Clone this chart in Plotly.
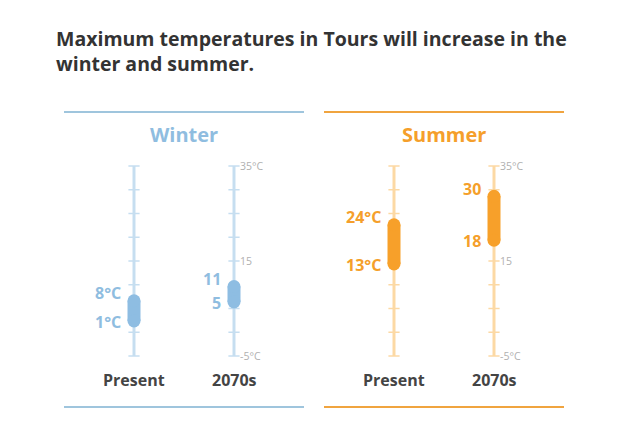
import plotly.graph_objects as go

# ---- data ----
periods = ["Present", "2070s"]
winter_low = [1, 5]
winter_high = [8, 11]
summer_low = [13, 18]
summer_high = [24, 30]
winter_low_text = ["1°C", "5"]
winter_high_text = ["8°C", "11"]
summer_low_text = ["13°C", "18"]
summer_high_text = ["24°C", "30"]
scale_ticks = [-5, 0, 5, 10, 15, 20, 25, 30, 35]
scale_label_values = [35, 15, -5]
scale_label_text = ["35°C", "15", "-5°C"]
title_lines = ["Maximum temperatures in Tours will increase in the", "winter and summer."]

# ---- layout geometry (page has an 8px body margin) ----
OFF = 8
W, H = 634 - OFF, 430 - OFF
ML, MT = 64 - OFF, 112 - OFF
MR = W - (564 - OFF)
MB = H - (407 - OFF)
plot_h = H - MT - MB
plot_w = W - ML - MR
px_per_deg = 4.75
y_max = -5 + (356 - 112) / px_per_deg
y_min = y_max - plot_h / px_per_deg
bar_w = 13
r_deg = (bar_w / 2) / px_per_deg
FONT = "Open Sans"


def paper_y(page_y):
    return 1 + (112 - page_y) / plot_h


def paper_x(page_x):
    return (page_x - 64) / plot_w


panels = [
    dict(name="Winter", xa="x", low=winter_low, high=winter_high,
         low_t=winter_low_text, high_t=winter_high_text,
         axis_col="#c6def0", bar_col="#8ebde2", txt_col="#8fbde0", rule_col="#9fc5dd"),
    dict(name="Summer", xa="x2", low=summer_low, high=summer_high,
         low_t=summer_low_text, high_t=summer_high_text,
         axis_col="#fcd9a4", bar_col="#f7a02a", txt_col="#f59f2b", rule_col="#f0a43f"),
]

fig = go.Figure()
annotations = []
shapes = []

for p in panels:
    xa = p["xa"]
    # vertical scale lines
    xs, ys = [], []
    for per in periods:
        xs += [per, per, None]
        ys += [scale_ticks[0], scale_ticks[-1], None]
    fig.add_trace(go.Scatter(x=xs, y=ys, mode="lines", xaxis=xa, yaxis="y",
                             line=dict(color=p["axis_col"], width=3),
                             hoverinfo="skip", showlegend=False))
    # tick marks
    tx, ty = [], []
    for per in periods:
        tx += [per] * len(scale_ticks)
        ty += scale_ticks
    fig.add_trace(go.Scatter(x=tx, y=ty, mode="markers", xaxis=xa, yaxis="y",
                             marker=dict(symbol="line-ew", size=8,
                                         line=dict(color=p["axis_col"], width=1.5)),
                             hoverinfo="skip", showlegend=False))
    # range bars
    for i, per in enumerate(periods):
        lo, hi = p["low"][i], p["high"][i]
        fig.add_trace(go.Scatter(x=[per, per], y=[lo + r_deg, hi - r_deg],
                                 mode="lines+markers", xaxis=xa, yaxis="y",
                                 line=dict(color=p["bar_col"], width=bar_w),
                                 marker=dict(size=bar_w, color=p["bar_col"], line=dict(width=0)),
                                 hoverinfo="skip", showlegend=False))
        annotations.append(dict(x=per, y=hi, xref=xa, yref="y", text=p["high_t"][i],
                                showarrow=False, xanchor="right", yanchor="middle",
                                xshift=-11, yshift=1,
                                font=dict(family=FONT, size=16, color=p["txt_col"], weight=700)))
        annotations.append(dict(x=per, y=lo, xref=xa, yref="y", text=p["low_t"][i],
                                showarrow=False, xanchor="right", yanchor="middle",
                                xshift=-11, yshift=6,
                                font=dict(family=FONT, size=16, color=p["txt_col"], weight=700)))
    # scale labels on the right axis
    for v, t in zip(scale_label_values, scale_label_text):
        annotations.append(dict(x=periods[1], y=v, xref=xa, yref="y", text=t,
                                showarrow=False, xanchor="left", yanchor="middle", xshift=4,
                                font=dict(family=FONT, size=10.5, color="#b0b0b0")))
    # category labels
    for per in periods:
        annotations.append(dict(x=per, y=paper_y(380), xref=xa, yref="paper",
                                text=per, showarrow=False, xanchor="center", yanchor="middle",
                                font=dict(family=FONT, size=16, color="#444444", weight=700)))
    # panel title
    annotations.append(dict(x=0.5, y=paper_y(134), xref=xa + " domain", yref="paper",
                            text=p["name"], showarrow=False, xanchor="center", yanchor="middle",
                            font=dict(family=FONT, size=20, color=p["txt_col"], weight=700)))
    # top / bottom rules
    for yy in (0, 1):
        shapes.append(dict(type="line", xref=xa + " domain", yref="paper",
                           x0=0, x1=1, y0=yy, y1=yy,
                           line=dict(color=p["rule_col"], width=2)))

# chart title (two lines in one text block)
annotations.append(dict(x=paper_x(54), y=paper_y(51), xref="paper", yref="paper",
                        text="<br>".join(title_lines), align="left",
                        showarrow=False, xanchor="left", yanchor="middle",
                        font=dict(family=FONT, size=19.5, color="#333333", weight=700)))

axis_common = dict(type="category", categoryarray=periods, range=[-0.7, 1.7],
                   visible=False, fixedrange=True)

fig.update_layout(
    width=W, height=H,
    margin=dict(l=ML, r=MR, t=MT, b=MB),
    paper_bgcolor="white", plot_bgcolor="white",
    xaxis=dict(domain=[0, 240 / plot_w], anchor="y", **axis_common),
    xaxis2=dict(domain=[260 / plot_w, 1], anchor="y", **axis_common),
    yaxis=dict(range=[y_min, y_max], visible=False, fixedrange=True),
    annotations=annotations,
    shapes=shapes,
    showlegend=False,
)

fig.write_html("out.html")
